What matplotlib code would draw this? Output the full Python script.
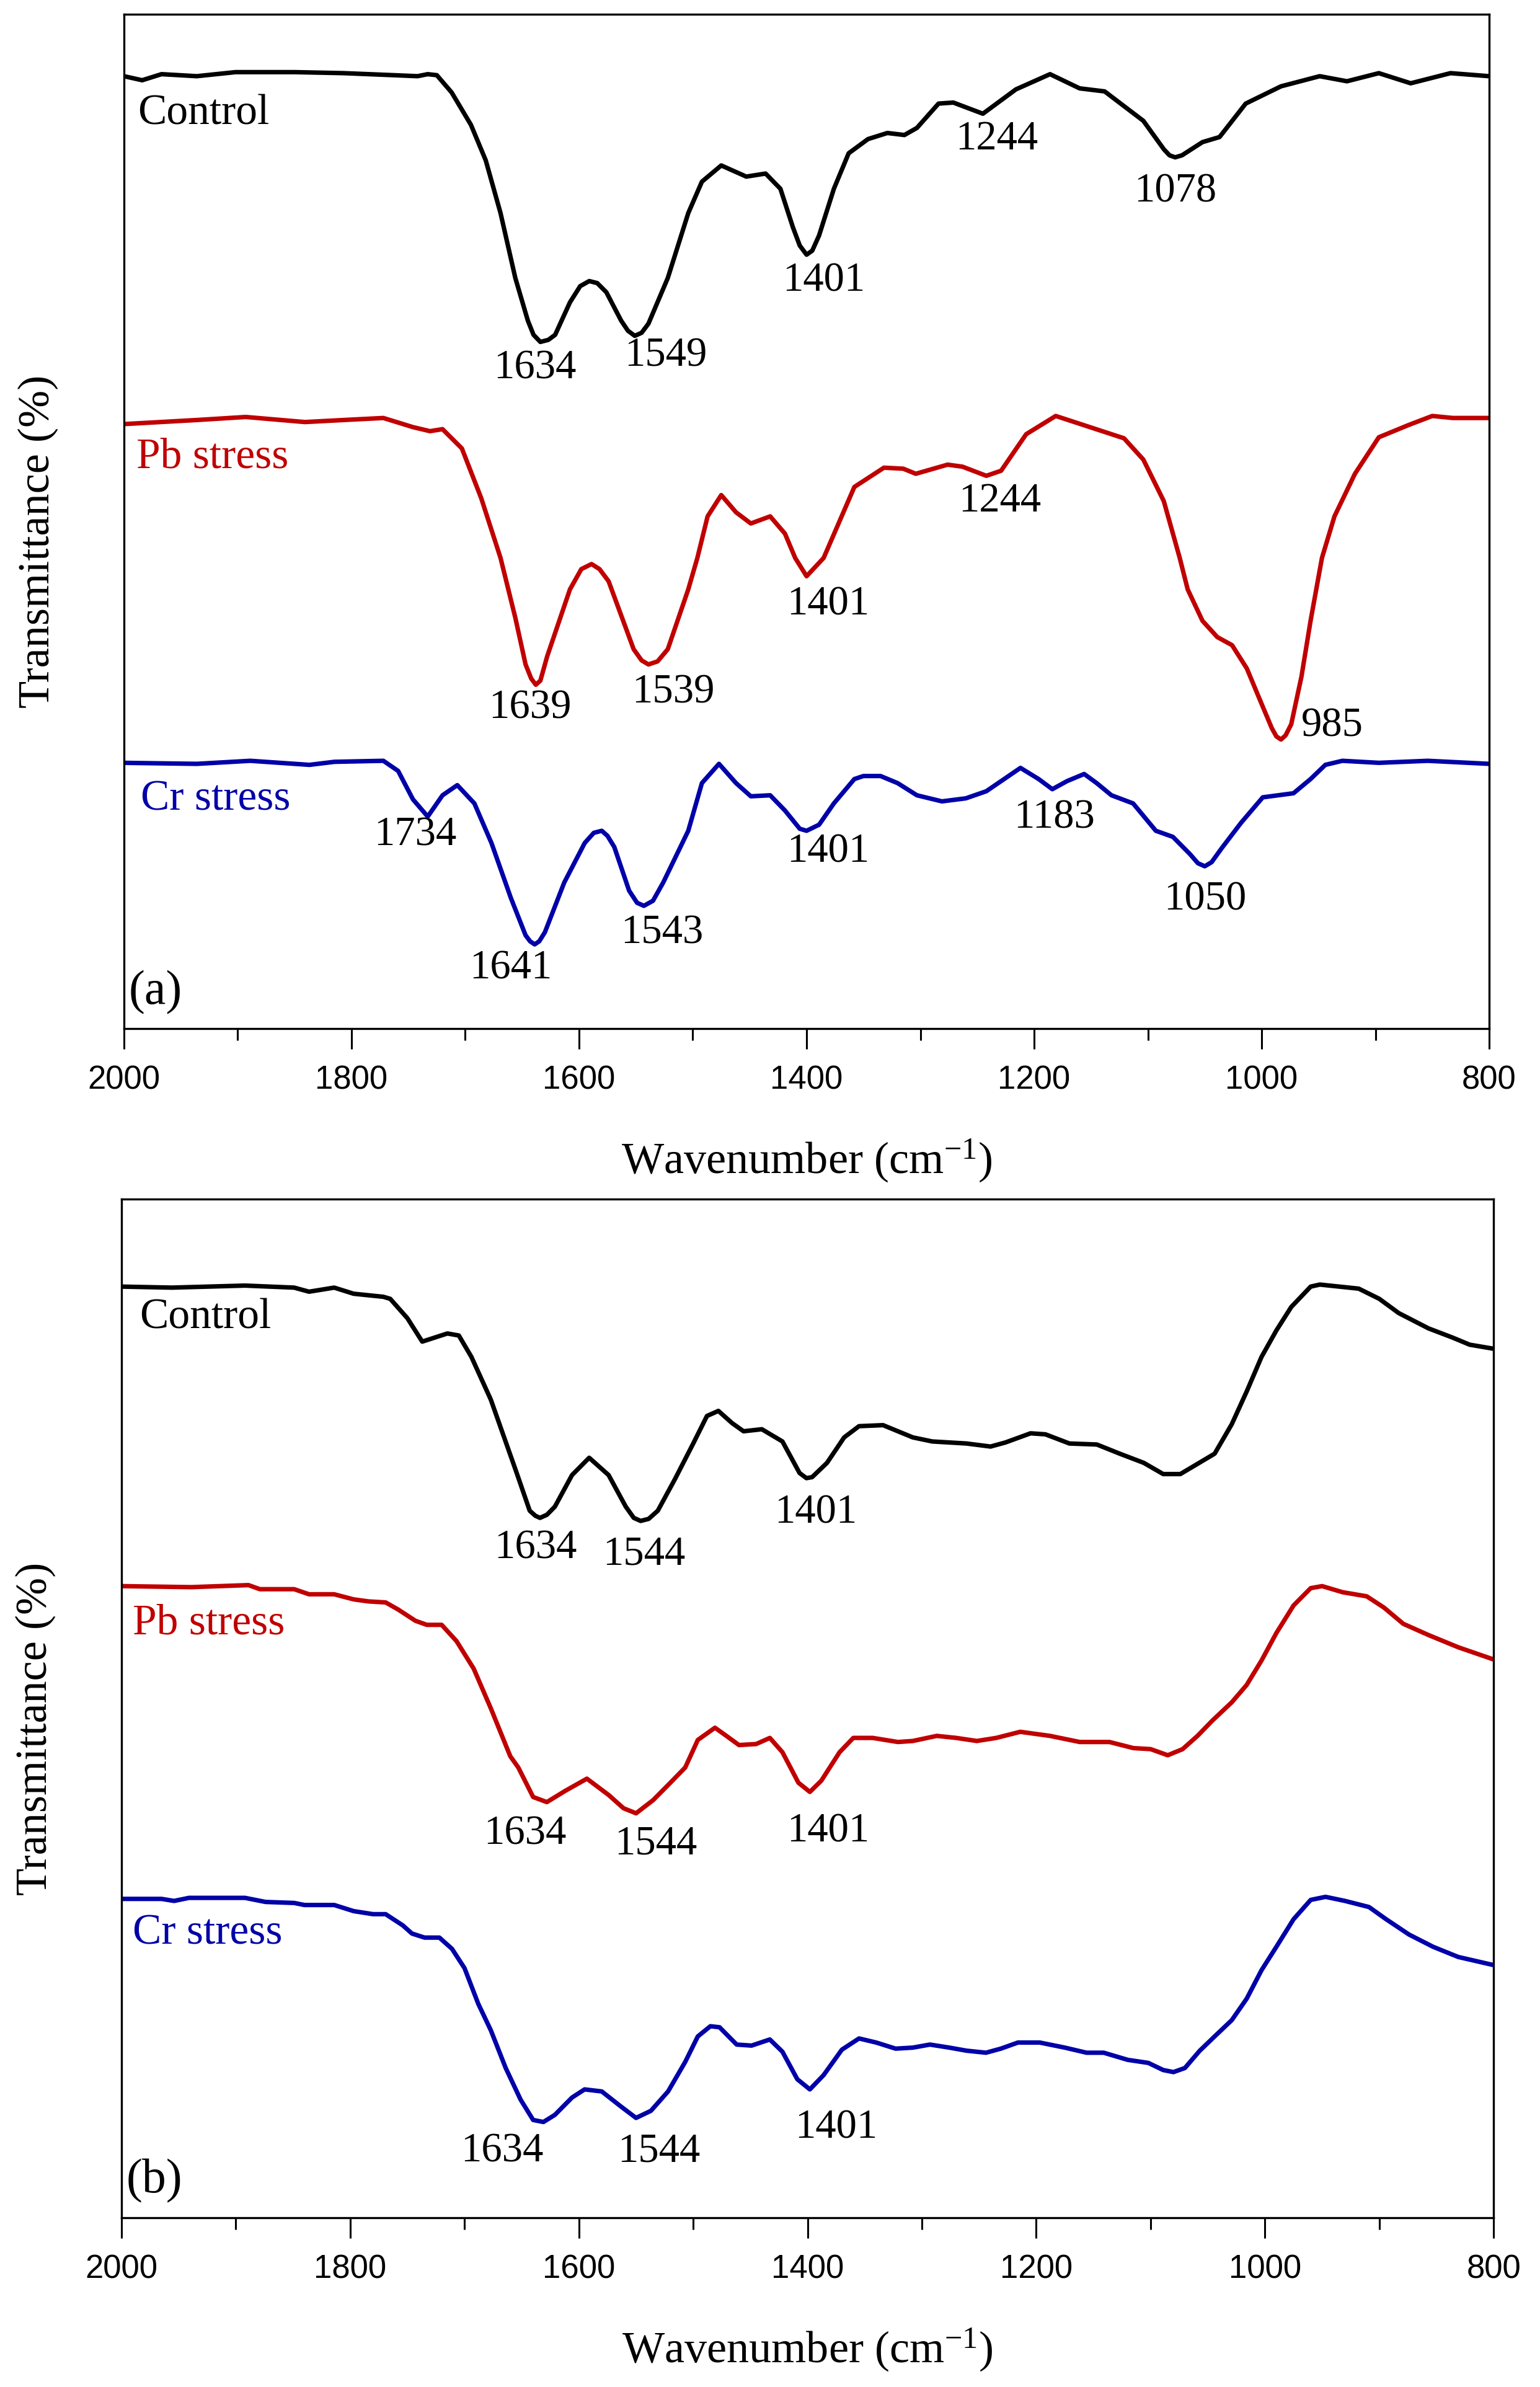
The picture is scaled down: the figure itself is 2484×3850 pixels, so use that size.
import matplotlib
matplotlib.use("Agg")
import matplotlib.pyplot as plt
from matplotlib.ticker import MultipleLocator

# ---------------- data: panel (a) ----------------
a_ctrl_w = [2000,1984,1967,1936,1902,1850,1807,1763,1742,1733,1725,1712,1695,1682,1669,1656,1645,1640,1634,1627,
            1621,1608,1599,1591,1584,1576,1563,1557,1551,1545,1539,1522,1504,1492,1475,1453,1436,1423,1412,1406,
            1400,1395,1389,1376,1363,1346,1329,1314,1303,1284,1271,1245,1216,1186,1160,1138,1104,1086,1081,1076,
            1070,1052,1037,1014,983,949,925,897,869,834,800]
a_ctrl_t = [93.9,93.5,94.1,93.9,94.3,94.3,94.2,94.0,93.9,94.1,94.0,92.3,89.1,85.6,80.4,74.0,69.8,68.4,67.7,67.9,
            68.4,71.6,73.2,73.7,73.5,72.6,69.8,68.8,68.3,68.6,69.5,74.0,80.4,83.5,85.1,84.0,84.3,82.8,79.0,77.2,
            76.3,76.7,78.2,82.8,86.3,87.7,88.3,88.1,88.8,91.2,91.3,90.2,92.6,94.1,92.7,92.4,89.5,86.7,86.1,85.9,
            86.1,87.4,87.9,91.2,92.9,93.9,93.4,94.2,93.2,94.2,93.9]

a_pb_w = [2000,1936,1893,1841,1807,1772,1746,1731,1720,1703,1686,1669,1656,1647,1642,1638,1634,1628,1608,1598,
          1589,1582,1574,1552,1545,1539,1531,1522,1504,1496,1487,1475,1462,1449,1432,1419,1410,1400,1385,1358,
          1332,1315,1304,1276,1263,1242,1229,1207,1181,1151,1121,1104,1086,1072,1065,1052,1039,1026,1013,1000,
          991,987,983,979,974,965,957,947,936,918,897,871,850,832,800]
a_pb_t = [59.6,60.0,60.3,59.8,60.0,60.2,59.3,58.9,59.1,57.2,52.3,46.4,40.5,35.9,34.5,33.9,34.3,36.7,43.3,45.3,
          45.8,45.3,44.1,37.4,36.3,35.9,36.2,37.4,43.3,46.4,50.5,52.6,50.9,49.8,50.5,48.8,46.4,44.6,46.4,53.4,
          55.3,55.2,54.7,55.6,55.4,54.5,55.0,58.6,60.4,59.3,58.2,56.1,52.0,46.4,43.3,40.2,38.6,37.8,35.5,32.0,
          29.6,28.8,28.5,28.9,30.0,34.7,40.2,46.4,50.5,54.7,58.3,59.5,60.4,60.2,60.2]

a_cr_w = [2000,1936,1889,1837,1815,1772,1759,1746,1733,1720,1707,1692,1677,1660,1647,1643,1639,1635,1630,1613,
          1595,1587,1580,1575,1569,1556,1549,1543,1535,1526,1504,1492,1477,1462,1449,1432,1419,1406,1400,1389,
          1376,1358,1350,1335,1320,1303,1281,1260,1242,1212,1196,1184,1171,1156,1145,1132,1113,1093,1078,1063,
          1056,1050,1044,1035,1018,999,972,957,944,929,897,854,800]
a_cr_t = [26.2,26.1,26.4,26.0,26.3,26.4,25.4,22.6,20.9,23.0,24.0,22.2,18.3,12.9,9.2,8.6,8.3,8.6,9.5,14.4,
          18.3,19.3,19.5,19.0,17.9,13.6,12.4,12.1,12.6,14.4,19.5,24.2,26.1,24.2,22.9,23.0,21.5,19.7,19.5,20.1,
          22.2,24.6,24.9,24.9,24.2,23.0,22.4,22.7,23.4,25.7,24.6,23.6,24.4,25.1,24.2,23.0,22.2,19.5,18.9,17.2,
          16.3,16.0,16.4,17.8,20.3,22.8,23.2,24.6,26.0,26.4,26.2,26.4,26.1]

# ---------------- data: panel (b) ----------------
b_ctrl_w = [2000,1956,1892,1849,1836,1814,1797,1771,1765,1750,1737,1715,1705,1694,1677,1655,1643,1638,1634,1628,
            1621,1606,1591,1574,1559,1552,1546,1539,1531,1516,1500,1488,1478,1466,1456,1440,1422,1407,1401,1396,
            1383,1368,1355,1334,1308,1291,1261,1240,1227,1205,1192,1171,1147,1127,1106,1089,1074,1059,1044,1029,
            1016,1003,990,977,960,952,918,900,883,857,836,821,800]
b_ctrl_t = [91.4,91.3,91.5,91.3,90.9,91.3,90.7,90.4,90.2,88.3,86.0,86.8,86.6,84.5,80.3,73.3,69.4,68.9,68.7,69.0,
            69.8,72.9,74.6,72.9,69.8,68.7,68.4,68.6,69.4,72.5,76.0,78.7,79.2,78.0,77.2,77.4,76.2,73.1,72.6,72.7,
            74.1,76.6,77.7,77.8,76.6,76.2,76.0,75.7,76.1,77.0,76.9,76.0,75.9,75.0,74.1,73.0,73.0,74.0,75.0,77.9,
            81.1,84.5,87.1,89.4,91.4,91.6,91.2,90.2,88.8,87.3,86.4,85.7,85.3]

b_pb_w = [2000,1939,1889,1879,1849,1836,1814,1797,1784,1769,1758,1743,1733,1720,1707,1692,1677,1660,1653,1640,
          1628,1612,1593,1574,1561,1550,1535,1520,1507,1496,1481,1471,1460,1445,1433,1422,1408,1398,1388,1372,
          1360,1343,1321,1308,1287,1270,1252,1235,1214,1188,1162,1136,1115,1100,1085,1072,1059,1046,1029,1016,
          1003,990,975,960,950,932,911,896,879,857,831,800]
b_pb_t = [62.0,61.9,62.1,61.7,61.7,61.2,61.2,60.7,60.5,60.4,59.7,58.6,58.2,58.2,56.6,53.9,50.0,45.3,44.2,41.3,
          40.8,41.9,43.1,41.5,40.2,39.7,41.0,42.7,44.2,46.9,48.1,47.3,46.4,46.5,47.1,45.7,42.7,41.8,42.9,45.7,
          47.1,47.1,46.7,46.8,47.3,47.1,46.8,47.1,47.7,47.3,46.7,46.7,46.1,46.0,45.4,46.0,47.3,48.8,50.6,52.3,
          54.7,57.4,60.1,61.8,62.0,61.4,61.0,59.9,58.3,57.2,56.0,54.8]

b_cr_w = [2000,1965,1954,1941,1892,1874,1849,1840,1814,1797,1780,1769,1754,1746,1735,1722,1711,1700,1688,1677,
          1664,1651,1640,1631,1621,1606,1595,1580,1563,1550,1537,1522,1507,1496,1485,1477,1462,1449,1433,1422,
          1409,1398,1386,1370,1355,1340,1323,1308,1293,1276,1261,1244,1231,1216,1197,1175,1156,1141,1120,1102,
          1089,1080,1070,1057,1044,1029,1016,1003,990,975,960,947,930,909,894,874,853,831,800]
b_cr_t = [31.3,31.3,31.1,31.4,31.4,31.0,30.9,30.7,30.7,30.1,29.8,29.8,28.7,27.9,27.5,27.5,26.4,24.5,21.0,18.4,
          14.7,11.6,9.6,9.4,10.1,11.8,12.6,12.4,10.9,9.8,10.5,12.4,15.3,17.8,18.8,18.7,17.0,16.9,17.5,16.3,
          13.6,12.6,14.0,16.5,17.6,17.2,16.6,16.7,17.0,16.7,16.4,16.2,16.6,17.2,17.2,16.7,16.2,16.2,15.5,15.2,
          14.5,14.3,14.7,16.4,17.8,19.4,21.5,24.3,26.6,29.3,31.2,31.5,31.1,30.5,29.3,27.8,26.6,25.6,24.8]

series_names = ["Control", "Pb stress", "Cr stress"]
series_colors = ["#000000", "#C00000", "#0000A8"]

# peak annotations
a_peak_text = ["1634","1549","1401","1244","1078","1639","1539","1401","1244","985","1734","1641","1543","1401","1183","1050"]
a_peak_x = [1639,1524,1385,1233,1076,1643,1517,1381,1230,938,1744,1660,1527,1381,1182,1050]
a_peak_y = [65.1,66.3,73.7,87.7,82.5,31.6,33.1,41.8,52.0,29.8,19.1,5.9,9.4,17.4,20.8,12.7]
a_name_x = [1988, 1989, 1985]
a_name_y = [90.2, 56.3, 22.6]

b_peak_text = ["1634","1544","1401","1634","1544","1401","1634","1544","1401"]
b_peak_x = [1638,1543,1393,1647,1533,1382,1667,1530,1375]
b_peak_y = [65.7,65.1,69.2,37.7,36.7,37.9,6.5,6.5,8.8]
b_name_x = [1984, 1990, 1990]
b_name_y = [88.3, 58.3, 27.9]

x_ticks = [2000, 1800, 1600, 1400, 1200, 1000, 800]

plt.rcParams['mathtext.fontset'] = 'custom'
plt.rcParams['mathtext.rm'] = 'Liberation Serif'
plt.rcParams['mathtext.it'] = 'Liberation Serif'

SERIF = ['Liberation Serif', 'DejaVu Serif']
SANS = ['Liberation Sans', 'DejaVu Sans']

fig = plt.figure(figsize=(24.84, 38.5), dpi=100)
ax_a = fig.add_axes([0.0805, 0.5691, 0.8865, 0.4249])
ax_b = fig.add_axes([0.0789, 0.0709, 0.8910, 0.4268])

panels = [
    (ax_a, [(a_ctrl_w, a_ctrl_t), (a_pb_w, a_pb_t), (a_cr_w, a_cr_t)],
     a_peak_text, a_peak_x, a_peak_y, a_name_x, a_name_y, "(a)"),
    (ax_b, [(b_ctrl_w, b_ctrl_t), (b_pb_w, b_pb_t), (b_cr_w, b_cr_t)],
     b_peak_text, b_peak_x, b_peak_y, b_name_x, b_name_y, "(b)"),
]

for ax, curves, ptext, px, py, nx, ny, tag in panels:
    for (w, t), col in zip(curves, series_colors):
        ax.plot(w, t, color=col, lw=5.2, solid_joinstyle='round', solid_capstyle='round')
    for s, x, y in zip(ptext, px, py):
        ax.text(x, y, s, ha='center', va='center', fontsize=48, family=SERIF, color='black')
    for s, x, y, col in zip(series_names, nx, ny, series_colors):
        ax.text(x, y, s, ha='left', va='center', fontsize=50, family=SERIF, color=col)
    ax.text(1996, 3.6, tag, ha='left', va='center', fontsize=56, family=SERIF, color='black')

    ax.set_xlim(2000, 800)
    ax.set_ylim(0, 100)
    ax.set_xticks(x_ticks)
    ax.set_xticklabels([str(v) for v in x_ticks], family=SANS, fontsize=38)
    ax.xaxis.set_minor_locator(MultipleLocator(100))
    ax.tick_params(axis='x', which='major', direction='out', length=24, width=2.2, pad=18)
    ax.tick_params(axis='x', which='minor', direction='out', length=14, width=2.2)
    ax.tick_params(axis='x', top=False)
    ax.set_yticks([])
    for sp in ax.spines.values():
        sp.set_linewidth(2.4)
    ax.set_xlabel("Wavenumber (cm$^{-1}$)", family=SERIF, fontsize=52, labelpad=48)
    ax.set_ylabel("Transmittance (%)", family=SERIF, fontsize=52)
    ax.yaxis.set_label_coords(-0.048, 0.48)

fig.savefig("out.png", dpi=100, facecolor='white')
